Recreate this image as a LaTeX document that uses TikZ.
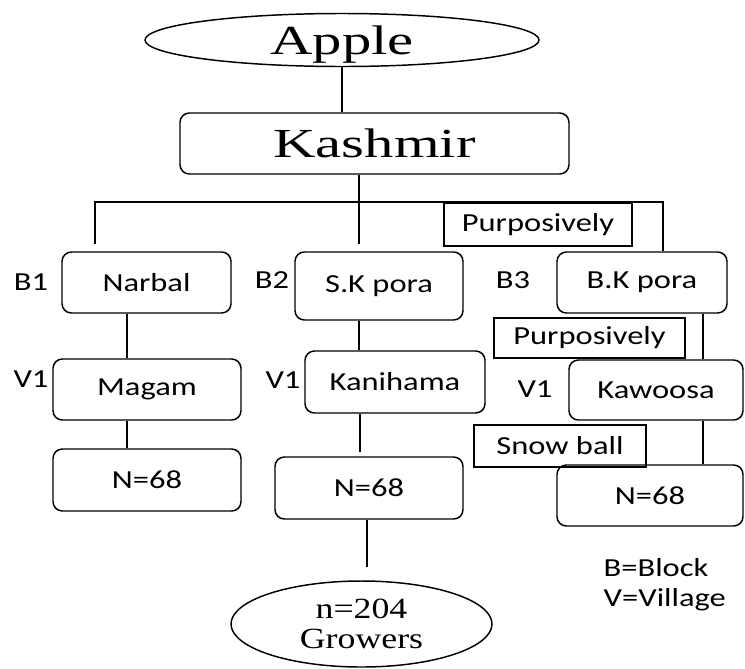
\documentclass[tikz,border=0pt]{standalone}
\usepackage{fontspec}
\setmainfont{Liberation Serif}
\newfontfamily\calfont[FakeStretch=1.25]{Carlito}
\newfontfamily\headfont[FakeStretch=1.42]{Liberation Serif}
\newfontfamily\growfont[FakeStretch=1.22]{Liberation Serif}
\usetikzlibrary{shapes.geometric}

\begin{document}
\begin{tikzpicture}[x=0.75pt,y=0.75pt,yscale=-1,xscale=1,line width=1.1pt,
  rbox/.style={draw,rounded corners=7pt,inner sep=0pt,font=\calfont\fontsize{19.5}{23}\selectfont},
  sbox/.style={draw,inner sep=0pt,font=\calfont\fontsize{19.5}{23}\selectfont},
  lbl/.style={inner sep=0pt,font=\calfont\fontsize{19.5}{23}\selectfont},
  oval/.style={draw,ellipse,inner sep=0pt}]
\useasboundingbox (0,0) rectangle (745,668);
% Text Node
\node (apple) at (342,40) [oval,minimum width=295.5pt,minimum height=39.75pt,text depth=0pt,font=\headfont\fontsize{31}{36}\selectfont] {Apple};
% Text Node
\node (kashmir) at (374.5,143.5) [rbox,minimum width=291.75pt,minimum height=45.75pt,text depth=0pt,font=\headfont\fontsize{31}{36}\selectfont] {Kashmir};
% Text Node
\node (purp1) at (538,224.5) [sbox,minimum width=141pt,minimum height=32.25pt] {Purposively};
% Text Node
\node (b1) at (31,282) [lbl] {B1};
\node (narbal) at (146.5,282.5) [rbox,minimum width=126.75pt,minimum height=45.75pt] {Narbal};
% Text Node
\node (b2) at (272,280) [lbl] {B2};
\node (skpora) at (379,286) [rbox,minimum width=126pt,minimum height=51pt] {S.K pora};
% Text Node
\node (b3) at (513,280) [lbl] {B3};
\node (bkpora) at (642,282.5) [rbox,minimum width=127.5pt,minimum height=45.75pt] {B.K pora};
% Text Node
\node (purp2) at (589.5,338) [sbox,minimum width=143.25pt,minimum height=30pt] {Purposively};
% Text Node
\node (v1a) at (31,379) [lbl] {V1};
\node (magam) at (147,389.5) [rbox,minimum width=141pt,minimum height=45.75pt] {Magam};
% Text Node
\node (v1b) at (283,380) [lbl] {V1};
\node (kanihama) at (395,382) [rbox,minimum width=135pt,minimum height=46.5pt] {Kanihama};
% Text Node
\node (v1c) at (535,389) [lbl] {V1};
\node (kawoosa) at (656,390) [rbox,minimum width=130.5pt,minimum height=45pt] {Kawoosa};
% Text Node
\node (snow) at (560,446) [sbox,minimum width=129pt,minimum height=31.5pt] {Snow ball};
% Text Node
\node (nL) at (147,480) [rbox,minimum width=141pt,minimum height=46.5pt] {N=68};
\node (nM) at (369,488) [rbox,minimum width=141pt,minimum height=46.5pt] {N=68};
\node (nR) at (650,495.5) [rbox,minimum width=139.5pt,minimum height=45.75pt] {N=68};
% Text Node
\node (growers) at (361.5,624) [oval,minimum width=195.75pt,minimum height=64.5pt,align=center,font=\growfont\fontsize{22}{22}\selectfont] {n=204\\Growers};
% Text Node
\node (keyB) at (603,568) [lbl,anchor=west] {B=Block};
\node (keyV) at (603,600) [lbl,anchor=west] {V=Village};

\coordinate (barL) at (95,202);
\coordinate (barR) at (663,202);
\coordinate (endL) at (95,244);
\coordinate (endM) at (359,244);
\coordinate (colL) at (127,0);
\coordinate (colM) at (359,0);
\coordinate (colR) at (703,0);
\coordinate (endN) at (360,452);
\coordinate (endG) at (367,567);

\draw (apple.south) -- (apple.south |- kashmir.north);
\draw (kashmir.south -| endM) -- (endM);
\draw (endL) -- (barL) -- (barR) -- (barR |- bkpora.north);
\draw (narbal.south -| colL) -- (magam.north -| colL);
\draw (magam.south -| colL) -- (nL.north -| colL);
\draw (skpora.south -| colM) -- (kanihama.north -| colM);
\draw (kanihama.south -| endN) -- (endN);
\draw (nM.south -| endG) -- (endG);
\draw (bkpora.south -| colR) -- (kawoosa.north -| colR);
\draw (kawoosa.south -| colR) -- (nR.north -| colR);
\end{tikzpicture}
\end{document}
